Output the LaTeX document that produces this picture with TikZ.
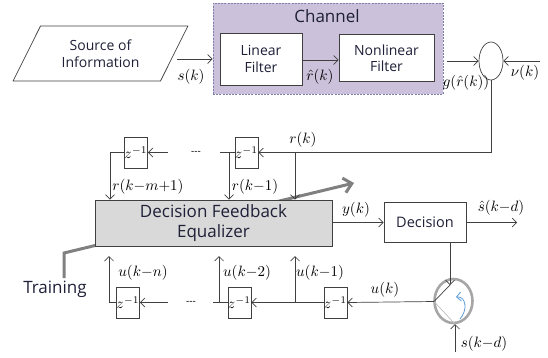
\documentclass[tikz,border=0pt]{standalone}
\usepackage{amsmath}
\usepackage{fontspec}
\setmainfont{Open Sans}
\usetikzlibrary{arrows,arrows.meta}
\usetikzlibrary{shapes}
\definecolor{txt}{HTML}{1F1F38}
\definecolor{chanFill}{HTML}{CCC1DA}
\definecolor{chanLine}{HTML}{7F80A8}
\definecolor{dfeFill}{HTML}{D9D9D9}
\definecolor{trainGray}{HTML}{808080}
\definecolor{switchGray}{HTML}{A6A6A6}
\definecolor{turnBlue}{HTML}{5B9BD5}

\begin{document}
\begin{tikzpicture}[x = 1pt, y = -1pt, line width = 0.7pt, >={Straight Barb[length=4.5pt, width=9pt]}]
\tikzstyle{blockStyle}=[draw = black!75, fill = white, align = center, inner sep = 0pt, text = txt, font = \fontsize{14}{16.5}\selectfont]
\tikzstyle{delayStyle}=[draw = black!75, fill = white, inner sep = 0pt, minimum width = 23pt, minimum height = 31pt]
\tikzstyle{sigStyle}=[inner sep = 0pt, font = \fontsize{10}{12}\selectfont, scale = 1.5]
\tikzstyle{bigText}=[inner sep = 0pt, text = txt, font = \fontsize{17}{20}\selectfont]
\tikzstyle{lineStyle}=[draw = black!75]
\useasboundingbox (0,0) rectangle (548,357);
\node[trapezium, trapezium left angle = 57, trapezium right angle = 123, trapezium stretches = true, draw = black!75, minimum width = 175pt, minimum height = 55pt, inner sep = 0pt, align = center, text = txt, font = \fontsize{14}{16.5}\selectfont] (src) at (100.5,53.5) {Source of\\Information};
\node[draw = chanLine, dash pattern = on 2pt off 1.2pt, line width = 0.6pt, fill = chanFill, minimum width = 230pt, minimum height = 91pt, inner sep = 0pt] (channel) at (328,48.5) {};
\node[bigText] (chanLabel) at (327,16) {Channel};
\node[blockStyle, minimum width = 82pt, minimum height = 52pt] (lin) at (261,59) {Linear\\Filter};
\node[blockStyle, minimum width = 95pt, minimum height = 47pt] (nonlin) at (386.5,58) {Nonlinear\\Filter};
\node[ellipse, draw = black!75, minimum width = 24pt, minimum height = 38pt, inner sep = 0pt] (sum) at (491,61) {};
\coordinate (sk) at (177,59);
\coordinate (gOut) at (447,61);
\coordinate (noise) at (540,61);
\draw[lineStyle, ->] (sk) -- (sk -| channel.west);
\draw[lineStyle, ->] (lin.east |- 0,60) -- (nonlin.west |- 0,60);
\draw[lineStyle, ->] (gOut) -- (sum.west);
\draw[lineStyle, ->] (noise) -- (sum.east);
\node[sigStyle] (skLabel) at (191,77) {$s(k)$};
\node[sigStyle] (rhatLabel) at (320,77) {$\hat{r}(k)$};
\node[sigStyle] (gLabel) at (466,83) {$g(\hat{r}(k))$};
\node[sigStyle] (nuLabel) at (525,73) {$\nu(k)$};
\coordinate (trainA) at (64,278);
\coordinate (trainB) at (64,253);
\coordinate (adapt) at (354,183);
\draw[draw = trainGray, line width = 3pt, -{Straight Barb[length=8pt, width=15pt, line width=3pt]}] (trainA) -- (trainB) -- (adapt);
\node[blockStyle, fill = dfeFill, minimum width = 237pt, minimum height = 46pt, font = \fontsize{17}{20}\selectfont] (dfe) at (213.5,223) {Decision Feedback\\Equalizer};
\node[bigText] (training) at (55,289) {Training};
\node[blockStyle, minimum width = 82pt, minimum height = 40pt, font = \fontsize{14.5}{17}\selectfont] (dec) at (425,222.5) {Decision};
\node[delayStyle] (zt1) at (136,152.5) {};
\node[delayStyle] (zt2) at (246.5,152.5) {};
\node[delayStyle] (zb1) at (128,302.5) {};
\node[delayStyle] (zb2) at (239.5,302.5) {};
\node[delayStyle] (zb3) at (335.5,302.5) {};
\foreach \z in {zt1,zt2,zb1,zb2,zb3}
  \node[sigStyle, scale = 0.97] at (\z) {$z^{-1}$};
\coordinate (rTap) at (295,152.5);
\coordinate (r1) at (229,152.5);
\coordinate (r1End) at (220,152.5);
\coordinate (r2In) at (168,152.5);
\coordinate (rm) at (110,152.5);
\draw[lineStyle, ->] (sum.south) |- (zt2.east);
\draw[lineStyle, ->] (rTap) -- (rTap |- dfe.north);
\draw[lineStyle] (zt2.west) -- (r1End);
\draw[lineStyle, ->] (r1) -- (r1 |- dfe.north);
\draw[lineStyle, ->] (r2In) -- (zt1.east);
\draw[lineStyle, ->] (zt1.west) -- (rm) -- (rm |- dfe.north);
\node[inner sep = 0pt, font = \fontsize{10}{12}\selectfont] (dotsTop) at (196,152.5) {-{}-{}-};
\node[sigStyle] (rkLabel) at (303,140) {$r(k)$};
\node[sigStyle] (r1Label) at (255,187) {$r(k{-}1)$};
\node[sigStyle] (rmLabel) at (148,187) {$r(k{-}m{+}1)$};
\coordinate (shat) at (517,223);
\draw[lineStyle, ->] (dfe.east |- dec.west) -- (dec.west);
\draw[lineStyle, ->] (dec.east) -- (dec.east -| shat);
\node[sigStyle] (yLabel) at (356,210) {$y(k)$};
\node[sigStyle] (shatLabel) at (501,208) {$\hat{s}(k{-}d)$};
\node[ellipse, draw = switchGray, line width = 2.6pt, minimum width = 38pt, minimum height = 44pt, inner sep = 0pt] (switch) at (453.5,301) {};
\coordinate (swA) at (450,285);
\coordinate (swB) at (455,324);
\coordinate (swC) at (434,301.5);
\coordinate (skd) at (455,352);
\draw[lineStyle, ->] (swA |- dec.south) -- (swA);
\draw[lineStyle] (swC) -- (swA);
\draw[draw = black!25] (swC) -- (swB);
\draw[lineStyle, ->] (skd) -- (swB);
\draw[draw = turnBlue, line width = 0.8pt, ->] (460,319) .. controls (468,310) and (466,296) .. (456,297);
\node[sigStyle] (skdLabel) at (484,344) {$s(k{-}d)$};
\coordinate (tapLevel) at (0,256);
\coordinate (u1) at (295,302.5);
\coordinate (u2) at (219,302.5);
\coordinate (u2End) at (213,302.5);
\coordinate (unIn) at (168,302.5);
\coordinate (un) at (109,302.5);
\draw[lineStyle, ->] (swC) -- (zb3.east);
\draw[lineStyle, ->] (zb3.west) -- (zb2.east);
\draw[lineStyle, ->] (u1) -- (u1 |- tapLevel);
\draw[lineStyle] (zb2.west) -- (u2End);
\draw[lineStyle, ->] (u2) -- (u2 |- tapLevel);
\draw[lineStyle, ->] (unIn) -- (zb1.east);
\draw[lineStyle, ->] (zb1.west) -- (un) -- (un |- tapLevel);
\node[inner sep = 0pt, font = \fontsize{10}{12}\selectfont] (dotsBot) at (191,302.5) {-{}-{}-};
\node[sigStyle] (ukLabel) at (385,290) {$u(k)$};
\node[sigStyle] (u1Label) at (320,273) {$u(k{-}1)$};
\node[sigStyle] (u2Label) at (247,273) {$u(k{-}2)$};
\node[sigStyle] (unLabel) at (143,273) {$u(k{-}n)$};
\end{tikzpicture}
\end{document}
